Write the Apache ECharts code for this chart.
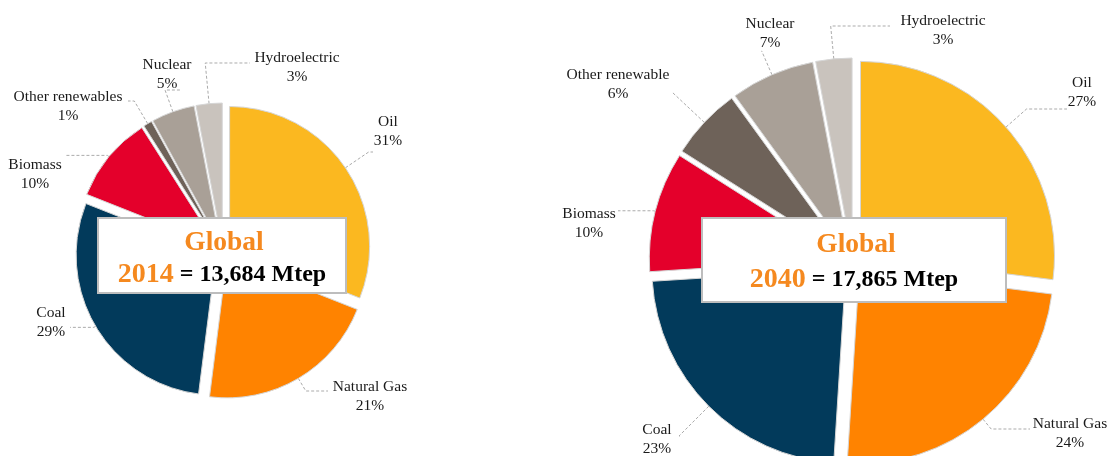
<!DOCTYPE html>
<html>
<head>
<meta charset="utf-8">
<script src="https://cdn.jsdelivr.net/npm/echarts@6/dist/echarts.min.js"></script>
<style>html,body{margin:0;padding:0;background:#fff;}#c{width:1108px;height:456px;}</style>
</head>
<body>
<div id="c"></div>
<script>
const categories2014 = ['Oil', 'Natural Gas', 'Coal', 'Biomass', 'Other renewables', 'Nuclear', 'Hydroelectric'];
const share2014 = [31, 21, 29, 10, 1, 5, 3];
const categories2040 = ['Oil', 'Natural Gas', 'Coal', 'Biomass', 'Other renewable', 'Nuclear', 'Hydroelectric'];
const share2040 = [27, 24, 23, 10, 6, 7, 3];
const years = ['2014', '2040'];
const totals = ['13,684', '17,865'];

// ---- styling / layout (kept apart from the data) ----
const colors = ['#FBB820', '#FF8300', '#023A5B', '#E4002B', '#6E6259', '#A9A097', '#C9C3BD'];
// where each label text sits, and where its leader line ends
const labelCenter2014 = [[388, 131], [370, 396], [51, 322], [35, 174], [68, 106], [167, 74], [297, 67]];
const lineEnd2014     = [[373, 152], [328, 391], [70, 318], [66, 168], [128, 101], [180, 90], [250, 63]];
const labelCenter2040 = [[1082, 92], [1070, 433], [657, 439], [589, 223], [618, 84], [770, 33], [943, 30]];
const lineEnd2040     = [[1067, 109], [1030, 429], [680, 436], [618, 218], [672, 92], [762, 51], [890, 26]];

const serif = '"Liberation Serif", "Times New Roman", serif';
const orange = '#F5891F';
const labelFontSize = 15.5;

const measureCtx = document.createElement('canvas').getContext('2d');
measureCtx.font = labelFontSize + 'px ' + serif;
function textW(s) { return measureCtx.measureText(s).width; }

function buildData(cats, vals, center, r, off, centers, ends) {
  const total = vals.reduce((a, b) => a + b, 0);
  let cum = 0;
  return cats.map((name, i) => {
    const v = vals[i];
    const th = (cum + v / 2) / total * Math.PI * 2;
    cum += v;
    const sx = Math.sin(th), sy = -Math.cos(th);
    const R = r + off;
    const x1 = center[0] + R * sx, y1 = center[1] + R * sy;
    const ex = ends[i][0], ey = ends[i][1];
    let len = Math.abs(sy) > 0.05 ? (ey - y1) / sy : 2;
    if (!(len >= 2)) len = 2;
    const x2 = x1 + len * sx, y2 = y1 + len * sy;
    const side = sx < 0 ? -1 : 1;
    const len2 = (ex - x2) * side;
    const w = Math.max(textW(name), textW(v + '%'));
    const lx = centers[i][0], ly = centers[i][1];
    const dist = side > 0 ? (lx - w / 2 - ex) : (ex - (lx + w / 2));
    const dv = ly - y2;
    const padding = dv > 0 ? [2 * dv, 0, 0, 0] : [0, 0, -2 * dv, 0];
    return {
      name: name, value: v, selected: true,
      itemStyle: { color: colors[i] },
      label: { distanceToLabelLine: dist, padding: padding },
      labelLine: { length: len, length2: len2 }
    };
  });
}

function pieSeries(cats, vals, center, radius, offset, centers, ends) {
  return {
    type: 'pie',
    center: center,
    radius: radius,
    startAngle: 90,
    clockwise: true,
    selectedMode: 'multiple',
    selectedOffset: offset,
    avoidLabelOverlap: false,
    animation: false,
    silent: true,
    itemStyle: { borderColor: '#d6d6d6', borderWidth: 1 },
    select: { itemStyle: { borderColor: '#d6d6d6', borderWidth: 1 } },
    emphasis: { disabled: true },
    label: {
      show: true,
      position: 'outside',
      overflow: 'none',
      formatter: '{n|{b}}\n{n|{c}%}',
      rich: { n: { align: 'center', fontFamily: serif, fontSize: labelFontSize, lineHeight: 19, color: '#1a1a1a' } }
    },
    labelLine: {
      show: true,
      minTurnAngle: 0,
      lineStyle: { color: '#ababab', type: [3, 2], width: 1 }
    },
    data: buildData(cats, vals, center, radius, offset, centers, ends)
  };
}

function box(x0, y0, x1, y1, gy, ly, year, total) {
  const cx = (x0 + x1) / 2;
  return [
    { type: 'rect', shape: { x: x0, y: y0, width: x1 - x0, height: y1 - y0 },
      style: { fill: '#fff', stroke: '#bdbdbd', lineWidth: 2 }, z: 100 },
    { type: 'text', x: cx + 2, y: y0 + gy, z: 101,
      style: { text: 'Global', fill: orange, font: 'bold 27.5px ' + serif, align: 'center', verticalAlign: 'middle' } },
    { type: 'text', x: cx, y: y0 + ly, z: 101,
      style: { text: '{y|' + year + '}{t| = ' + total + ' Mtep}', align: 'center', verticalAlign: 'middle',
        rich: {
          y: { fill: orange, font: 'bold 28px ' + serif },
          t: { fill: '#000', font: 'bold 24px ' + serif }
        } } }
  ];
}

const chart = echarts.init(document.getElementById('c'), null, { renderer: 'canvas' });
chart.setOption({
  backgroundColor: '#fff',
  animation: false,
  series: [
    pieSeries(categories2014, share2014, [223, 251], 140, 8, labelCenter2014, lineEnd2014),
    pieSeries(categories2040, share2040, [853, 262], 194, 10, labelCenter2040, lineEnd2040)
  ],
  graphic: box(98, 218, 346, 293, 25, 57, years[0], totals[0])
    .concat(box(702, 218, 1006, 302, 27, 62, years[1], totals[1]))
});
</script>
</body>
</html>
